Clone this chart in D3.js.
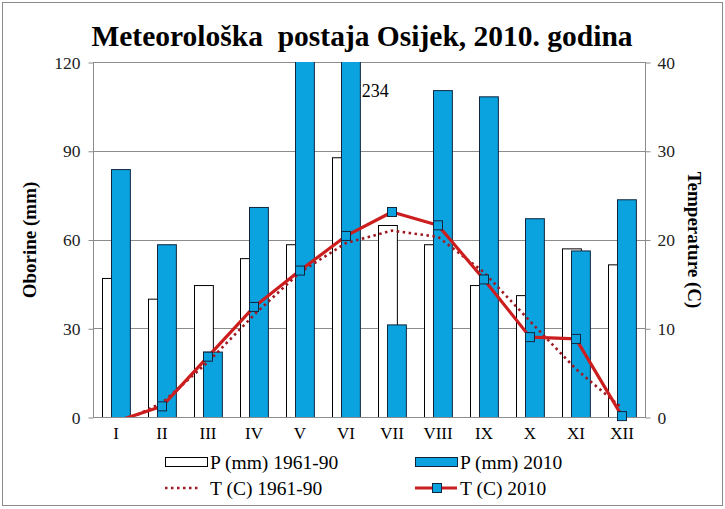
<!DOCTYPE html>
<html>
<head>
<meta charset="utf-8">
<script src="https://cdn.jsdelivr.net/npm/d3@7/dist/d3.min.js"></script>
<style>
  html, body { margin: 0; padding: 0; background: #fff; }
  svg { display: block; }
  svg text { font-family: "Liberation Serif", "Times New Roman", serif !important; }
</style>
</head>
<body>
<svg id="chart" width="725" height="509"></svg>
<script>
// ---- data ----
const months = ["I","II","III","IV","V","VI","VII","VIII","IX","X","XI","XII"];
const precip6190 = [47, 40, 44.6, 53.7, 58.4, 87.8, 64.9, 58.4, 44.6, 41.2, 57, 51.6];
const precip2010 = [83.8, 58.4, 22.1, 71, 166, 234, 31.3, 110.5, 108.4, 67.2, 56.3, 73.6];
const temp6190 = [-0.9, 1.6, 6.2, 11.5, 16.3, 19.6, 21.0, 20.3, 16.3, 10.8, 5.4, 1.0];
const temp2010 = [-0.5, 1.2, 6.8, 12.4, 16.5, 20.4, 23.1, 21.6, 15.5, 9.0, 8.8, 0.1];
const precipTicks = [0, 30, 60, 90, 120];
const tempTicks = [0, 10, 20, 30, 40];
const legendLabels = ["P (mm) 1961-90", "P (mm) 2010", "T (C) 1961-90", "T (C) 2010"];
const titleText = "Meteorološka  postaja Osijek, 2010. godina";
const leftTitle = "Oborine (mm)";
const rightTitle = "Temperature (C)";

// ---- layout ----
const W = 725, H = 509;
const plot = { left: 93, right: 645, top: 62, bottom: 417 };
const blue = "#0AA3E0", red = "#CC1E1E", dotRed = "#9E1A22", grid = "#8c8c8c";

const svg = d3.select("#chart");
svg.append("rect").attr("x", 2.5).attr("y", 2.5).attr("width", W - 5).attr("height", H - 6)
  .attr("fill", "#fff").attr("stroke", "#8a8a8a").attr("stroke-width", 1);

const x = d3.scaleBand().domain(months).range([plot.left, plot.right]).paddingInner(0).paddingOuter(0);
const yP = d3.scaleLinear().domain([0, 120]).range([plot.bottom, plot.top]);
const yT = d3.scaleLinear().domain([0, 40]).range([plot.bottom, plot.top]);
const bw = x.bandwidth();
const barW = bw * 0.41;
const offOld = bw * 0.196, offNew = bw * 0.39;

svg.append("defs").append("clipPath").attr("id", "clip")
  .append("rect").attr("x", plot.left).attr("y", plot.top)
  .attr("width", plot.right - plot.left).attr("height", plot.bottom - plot.top);

// title
svg.append("text").attr("x", 362).attr("y", 46).attr("text-anchor", "middle")
  .attr("font-size", 29.5).attr("font-weight", "bold").attr("fill", "#000")
  .style("white-space", "pre").text(titleText);

// gridlines
svg.append("g").selectAll("line").data(precipTicks).join("line")
  .attr("x1", plot.left).attr("x2", plot.right)
  .attr("y1", d => Math.round(yP(d)) + 0.5).attr("y2", d => Math.round(yP(d)) + 0.5)
  .attr("stroke", grid).attr("stroke-width", 1);

// bars
const gBars = svg.append("g").attr("clip-path", "url(#clip)");
gBars.selectAll("rect.old").data(months).join("rect").attr("class", "old")
  .attr("x", d => Math.round(x(d) + offOld) + 0.5)
  .attr("y", (d, i) => yP(precip6190[i]) + 0.5)
  .attr("width", barW)
  .attr("height", (d, i) => yP(0) - yP(precip6190[i]))
  .attr("fill", "#fff").attr("stroke", "#000").attr("stroke-width", 1);
gBars.selectAll("rect.new").data(months).join("rect").attr("class", "new")
  .attr("x", d => Math.round(x(d) + offNew) + 0.5)
  .attr("y", (d, i) => Math.max(yP(precip2010[i]), plot.top - 2) + 0.5)
  .attr("width", barW)
  .attr("height", (d, i) => yP(0) - Math.max(yP(precip2010[i]), plot.top - 2))
  .attr("fill", blue).attr("stroke", "#10263f").attr("stroke-width", 1);

// label for clipped maximum bar
const iMax = d3.maxIndex(precip2010);
svg.append("text").attr("x", x(months[iMax]) + offNew + barW + 2).attr("y", 97)
  .attr("font-size", 18).attr("fill", "#000").text(d3.format("d")(precip2010[iMax]));

// axes lines
svg.append("line").attr("x1", plot.left + 0.5).attr("x2", plot.left + 0.5)
  .attr("y1", plot.top).attr("y2", plot.bottom + 1).attr("stroke", grid);
svg.append("line").attr("x1", plot.right + 0.5).attr("x2", plot.right + 0.5)
  .attr("y1", plot.top).attr("y2", plot.bottom + 1).attr("stroke", grid);

// left axis
const axL = svg.append("g").attr("transform", `translate(${plot.left + 0.5},0.5)`)
  .call(d3.axisLeft(yP).tickValues(precipTicks).tickSize(5).tickPadding(8).tickFormat(d3.format("d")));
axL.select(".domain").remove();
axL.selectAll(".tick line").attr("stroke", grid);
axL.selectAll(".tick text").attr("font-size", 17.5).attr("fill", "#222");

// right axis
const axR = svg.append("g").attr("transform", `translate(${plot.right + 0.5},0.5)`)
  .call(d3.axisRight(yT).tickValues(tempTicks).tickSize(5).tickPadding(7).tickFormat(d3.format("d")));
axR.select(".domain").remove();
axR.selectAll(".tick line").attr("stroke", grid);
axR.selectAll(".tick text").attr("font-size", 17.5).attr("fill", "#222");

// bottom axis labels
const axB = svg.append("g").attr("transform", `translate(0,${plot.bottom})`)
  .call(d3.axisBottom(x).tickSize(0).tickPadding(10));
axB.select(".domain").remove();
axB.selectAll(".tick text").attr("font-size", 17).attr("fill", "#000");

// axis titles
svg.append("text").attr("transform", "translate(36,240) rotate(-90)")
  .attr("text-anchor", "middle").attr("font-size", 19).attr("font-weight", "bold").text(leftTitle);
svg.append("text").attr("transform", "translate(688,240) rotate(90)")
  .attr("text-anchor", "middle").attr("font-size", 19).attr("font-weight", "bold").text(rightTitle);

// lines
const cx = d => x(d) + bw / 2;
const gLines = svg.append("g").attr("clip-path", "url(#clip)");
const lineGen = d3.line().x((d, i) => cx(months[i])).y(d => yT(d));
gLines.append("path").datum(temp6190).attr("d", lineGen)
  .attr("fill", "none").attr("stroke", dotRed).attr("stroke-width", 2.6)
  .attr("stroke-dasharray", "2.5,3.5");
gLines.append("path").datum(temp2010).attr("d", lineGen)
  .attr("fill", "none").attr("stroke", red).attr("stroke-width", 3.2)
  .attr("stroke-linejoin", "round");

// markers
const mk = temp2010.map((v, i) => ({ m: months[i], v })).filter(d => d.v >= 0);
svg.append("g").selectAll("rect").data(mk).join("rect")
  .attr("x", d => cx(d.m) - 4.5).attr("y", d => yT(d.v) - 4.5)
  .attr("width", 9).attr("height", 9)
  .attr("fill", blue).attr("stroke", "#10263f").attr("stroke-width", 1);

// legend
const lg = svg.append("g");
const lx = [165, 415], ly = [462, 488];
legendLabels.forEach((lab, k) => {
  const col = k % 2, row = Math.floor(k / 2);
  const g = lg.append("g").attr("transform", `translate(${lx[col]},${ly[row]})`);
  if (k === 0) {
    g.append("rect").attr("x", 0.5).attr("y", -4.5).attr("width", 42).attr("height", 9)
      .attr("fill", "#fff").attr("stroke", "#000");
  } else if (k === 1) {
    g.append("rect").attr("x", 0.5).attr("y", -4.5).attr("width", 42).attr("height", 9)
      .attr("fill", blue).attr("stroke", "#10263f");
  } else if (k === 2) {
    g.append("line").attr("x1", 0).attr("x2", 36).attr("y1", 0).attr("y2", 0)
      .attr("stroke", dotRed).attr("stroke-width", 2.4).attr("stroke-dasharray", "2.5,3.5");
  } else {
    g.append("line").attr("x1", 0).attr("x2", 42).attr("y1", 0).attr("y2", 0)
      .attr("stroke", red).attr("stroke-width", 3.2);
    g.append("rect").attr("x", 17.5).attr("y", -4.5).attr("width", 9).attr("height", 9)
      .attr("fill", blue).attr("stroke", "#10263f");
  }
  g.append("text").attr("x", 45).attr("y", 7).attr("font-size", 19.5).attr("fill", "#000")
    .text(lab);
});
</script>
</body>
</html>
